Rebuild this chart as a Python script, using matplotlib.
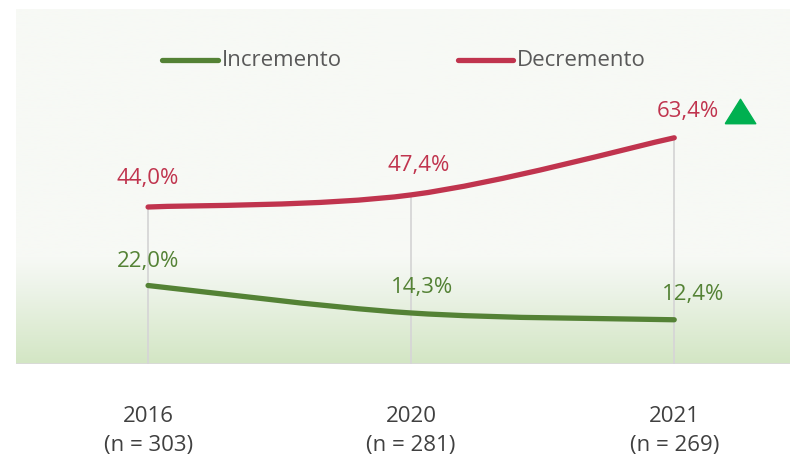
import numpy as np
import matplotlib.pyplot as plt
from matplotlib.path import Path
from matplotlib.patches import PathPatch
from matplotlib.colors import LinearSegmentedColormap

plt.rcParams["font.family"] = ["Open Sans", "DejaVu Sans"]

years = ["2016", "2020", "2021"]
sample_sizes = [303, 281, 269]
incremento = [22.0, 14.3, 12.4]
decremento = [44.0, 47.4, 63.4]

green = "#548235"
red = "#c0344e"
text_gray = "#595959"


def smooth_path(xs, ys, tension=0.5):
    """Bezier path through the points (Catmull-Rom style)"""
    pts = np.column_stack([xs, ys]).astype(float)
    verts = [pts[0]]
    codes = [Path.MOVETO]
    n = len(pts)
    for i in range(n - 1):
        p0 = pts[i - 1] if i > 0 else pts[i]
        p1 = pts[i]
        p2 = pts[i + 1]
        p3 = pts[i + 2] if i + 2 < n else pts[i + 1]
        c1 = p1 + (p2 - p0) * tension / 3
        c2 = p2 - (p3 - p1) * tension / 3
        verts += [c1, c2, p2]
        codes += [Path.CURVE4] * 3
    return Path(verts, codes)


fig = plt.figure(figsize=(7.9, 4.59), dpi=100)
ax = fig.add_axes([16 / 790, 1 - 364 / 459, 774 / 790, 355 / 459])
x = np.arange(len(years))
ax.set_xlim(-0.502, 2.44)
ax.set_ylim(0, 99.5)

# background gradient
cmap = LinearSegmentedColormap.from_list(
    "bg", [(0.0, "#d3e6c4"), (0.22, "#eef4ea"), (0.3, "#f7f9f5"), (1.0, "#f7f9f5")]
)
grad = np.linspace(0, 1, 256).reshape(-1, 1)
ax.imshow(
    grad,
    extent=[-0.502, 2.44, 0, 99.5],
    origin="lower",
    aspect="auto",
    cmap=cmap,
    zorder=0,
)

for s in ax.spines.values():
    s.set_visible(False)
ax.axhline(0, color="#d9d9d9", lw=2, zorder=1)

# drop lines
for xi, yi in zip(x, decremento):
    ax.plot([xi, xi], [0, yi], color="#d6d6d6", lw=1.3, zorder=1)

for vals, col in [(incremento, green), (decremento, red)]:
    patch = PathPatch(
        smooth_path(x, vals),
        facecolor="none",
        edgecolor=col,
        lw=3.8,
        capstyle="round",
        zorder=3,
    )
    ax.add_patch(patch)

# value labels
dec_off = [(0, 8.0), (0.03, 8.1), (0.05, 7.4)]
inc_off = [(0, 6.6), (0.04, 7.1), (0.07, 7.1)]
for xi, v, (dx, dy) in zip(x, decremento, dec_off):
    ax.text(xi + dx, v + dy, f"{v:.1f}%".replace(".", ","), color=red,
            fontsize=16, ha="center", va="center", zorder=4)
for xi, v, (dx, dy) in zip(x, incremento, inc_off):
    ax.text(xi + dx, v + dy, f"{v:.1f}%".replace(".", ","), color=green,
            fontsize=16, ha="center", va="center", zorder=4)
tri = [(-1, -0.8), (1, -0.8), (0, 0.8), (-1, -0.8)]
ax.plot(x[-1] + 0.25, decremento[-1] + 7.4, marker=tri, markersize=22,
        color="#00b050", zorder=4, clip_on=False)

# legend
ax.plot([0.053, 0.266], [85.2, 85.2], color=green, lw=3.8,
        solid_capstyle="round")
ax.text(0.281, 85.2, "Incremento", color=text_gray, fontsize=16, va="center")
ax.plot([1.179, 1.388], [85.2, 85.2], color=red, lw=3.8,
        solid_capstyle="round")
ax.text(1.403, 85.2, "Decremento", color=text_gray, fontsize=16, va="center")

ax.set_xticks(x)
ax.set_xticklabels([f"{y}\n(n = {n})" for y, n in zip(years, sample_sizes)],
                   color="#404040", fontsize=16, linespacing=1.5)
ax.tick_params(axis="x", length=0, pad=30)
ax.set_yticks([])

fig.savefig("out.png", dpi=100, facecolor="white")
